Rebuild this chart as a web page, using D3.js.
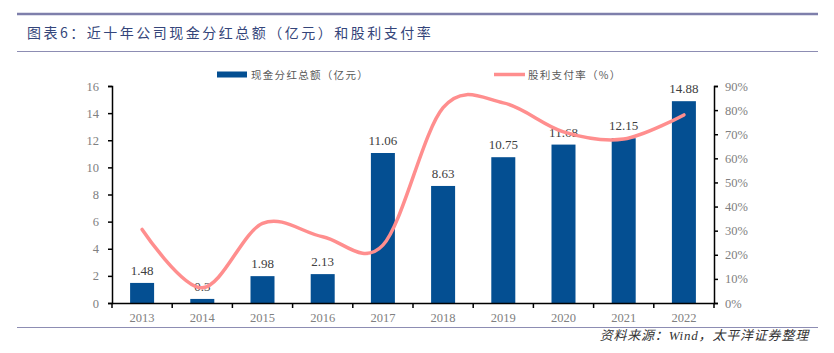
<!DOCTYPE html>
<html lang="zh">
<head>
    <meta charset="UTF-8">
    <title>近十年公司现金分红总额和股利支付率</title>
    <script src="https://d3js.org/d3.v7.min.js"></script>
    <style>
        body { margin: 0; background: #fff; }
        svg { display: block; }
    </style>
</head>
<body>
    <svg width="834" height="353"></svg>

    <script>
        // chart data
        const years = ['2013', '2014', '2015', '2016', '2017', '2018', '2019', '2020', '2021', '2022'];
        const dividends = [1.48, 0.3, 1.98, 2.13, 11.06, 8.63, 10.75, 11.68, 12.15, 14.88];
        const payoutRatio = [30.5, 6.3, 33, 27.5, 24, 81, 83, 71, 68, 78];
        const leftTicks = [0, 2, 4, 6, 8, 10, 12, 14, 16];
        const rightTicks = [0, 10, 20, 30, 40, 50, 60, 70, 80, 90];

        const svg = d3.select('svg');
        const serif = '"Liberation Serif", "Times New Roman", serif';
        const cjk = '"Noto Sans CJK SC", sans-serif';

        const plotLeft = 112, plotRight = 714, plotTop = 86, plotBottom = 303;

        const x = d3.scaleBand().domain(years).range([plotLeft, plotRight]).padding(0);
        const yL = d3.scaleLinear().domain([0, 16]).range([plotBottom, plotTop]);
        const yR = d3.scaleLinear().domain([0, 90]).range([plotBottom, plotTop]);

        // header rules + title
        svg.append('line').attr('x1', 17).attr('x2', 818).attr('y1', 14).attr('y2', 14)
            .attr('stroke', '#7e7fab').attr('stroke-width', 2.5);
        svg.append('line').attr('x1', 17).attr('x2', 818).attr('y1', 51.5).attr('y2', 51.5)
            .attr('stroke', '#8d8db3').attr('stroke-width', 1);
        svg.append('line').attr('x1', 17).attr('x2', 818).attr('y1', 327.5).attr('y2', 327.5)
            .attr('stroke', '#8d8db3').attr('stroke-width', 1);

        svg.append('text')
            .attr('x', 27).attr('y', 38)
            .attr('font-family', cjk).attr('font-size', 14)
            .attr('letter-spacing', 2.5)
            .attr('fill', '#34457a')
            .text('图表6：近十年公司现金分红总额（亿元）和股利支付率');

        svg.append('text')
            .attr('x', 809).attr('y', 340)
            .attr('text-anchor', 'end')
            .attr('font-family', serif + ', ' + cjk).attr('font-size', 13)
            .attr('font-style', 'italic')
            .attr('letter-spacing', 0.8)
            .attr('fill', '#333')
            .text('资料来源：Wind，太平洋证券整理');

        // bars
        const barW = 24;
        svg.append('g').selectAll('rect')
            .data(dividends)
            .join('rect')
            .attr('x', (d, i) => x(years[i]) + x.bandwidth() / 2 - barW / 2)
            .attr('y', d => yL(d))
            .attr('width', barW)
            .attr('height', d => yL(0) - yL(d))
            .attr('fill', '#044f92');

        // bar labels
        svg.append('g').selectAll('text')
            .data(dividends)
            .join('text')
            .attr('x', (d, i) => x(years[i]) + x.bandwidth() / 2)
            .attr('y', d => yL(d) - 8)
            .attr('text-anchor', 'middle')
            .attr('font-family', serif).attr('font-size', 13)
            .attr('fill', '#404040')
            .text(d => d);

        // payout line
        const line = d3.line()
            .x((d, i) => x(years[i]) + x.bandwidth() / 2)
            .y(d => yR(d))
            .curve(d3.curveCardinal.tension(0));

        svg.append('path')
            .datum(payoutRatio)
            .attr('d', line)
            .attr('fill', 'none')
            .attr('stroke', '#ff8e8e')
            .attr('stroke-width', 3.5)
            .attr('stroke-linecap', 'round');

        // axes
        const axisStyle = g => {
            g.select('.domain').attr('stroke', '#000').attr('stroke-width', 1.5);
            g.selectAll('.tick line').attr('stroke', '#000').attr('stroke-width', 1.5);
            g.selectAll('.tick text').attr('font-family', serif).attr('font-size', 12.5).attr('fill', '#808080');
        };

        svg.append('g')
            .attr('transform', `translate(${plotLeft},0)`)
            .call(d3.axisLeft(yL).tickValues(leftTicks).tickSize(4).tickSizeOuter(4).tickPadding(9))
            .call(axisStyle);

        svg.append('g')
            .attr('transform', `translate(${plotRight},0)`)
            .call(d3.axisRight(yR).tickValues(rightTicks).tickSize(4).tickSizeOuter(4).tickPadding(7)
                .tickFormat(d => d + '%'))
            .call(axisStyle);

        const xAxis = svg.append('g')
            .attr('transform', `translate(0,${plotBottom})`)
            .call(d3.axisBottom(x).tickSize(0).tickSizeOuter(0).tickPadding(10))
            .call(axisStyle);

        // category separator ticks
        const bounds = years.map(y => x(y)).concat([plotRight]);
        xAxis.selectAll('.sep')
            .data(bounds)
            .join('line')
            .attr('class', 'sep')
            .attr('x1', d => d).attr('x2', d => d)
            .attr('y1', 0).attr('y2', 5)
            .attr('stroke', '#000').attr('stroke-width', 1.5);

        // legend
        const legend = svg.append('g').attr('font-family', cjk).attr('font-size', 10.5).attr('fill', '#595959');
        legend.append('rect').attr('x', 217).attr('y', 71.5).attr('width', 30).attr('height', 6).attr('fill', '#044f92');
        legend.append('text').attr('x', 251).attr('y', 78.5).attr('letter-spacing', 1.3).text('现金分红总额（亿元）');
        legend.append('line').attr('x1', 494).attr('x2', 525).attr('y1', 74.5).attr('y2', 74.5)
            .attr('stroke', '#ff8e8e').attr('stroke-width', 3.5);
        legend.append('text').attr('x', 528).attr('y', 78.5).attr('letter-spacing', 1.3).text('股利支付率（%）');
    </script>
</body>
</html>
